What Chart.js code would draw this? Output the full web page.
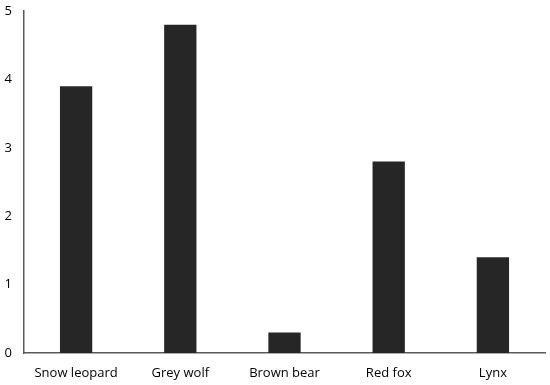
<!DOCTYPE html>
<html>
<head>
<meta charset="utf-8">
<script src="https://cdn.jsdelivr.net/npm/chart.js@4"></script>
<style>
  html, body { margin: 0; padding: 0; background: #fff; }
  #wrap { width: 550px; height: 385px; }
</style>
</head>
<body>
<div id="wrap"><canvas id="myChart"></canvas></div>
<script>
// data
const animals = ["Snow leopard", "Grey wolf", "Brown bear", "Red fox", "Lynx"];
const values = [3.9, 4.8, 0.3, 2.8, 1.4];
const yTicks = [0, 1, 2, 3, 4, 5];

const axisColor = "#595959";
const fontSpec = { family: "'Open Sans', 'Liberation Sans', sans-serif", size: 13 };

const config = {
  type: "bar",
  data: {
    labels: animals,
    datasets: [
      {
        data: values,
        backgroundColor: "#262626",
        borderWidth: 0,
        categoryPercentage: 1,
        barPercentage: 0.31,
      },
    ],
  },
  options: {
    responsive: true,
    maintainAspectRatio: false,
    animation: false,
    layout: {
      padding: { top: 11, right: 5, left: 0, bottom: 0 },
    },
    scales: {
      x: {
        grid: { display: false, drawTicks: false },
        border: { display: true, color: axisColor, width: 1.5 },
        ticks: { color: "#000", font: fontSpec, padding: 12, maxRotation: 0 },
        afterFit: (scale) => { scale.height = 32; },
      },
      y: {
        min: 0,
        max: 5,
        grid: { display: false, drawTicks: false },
        border: { display: true, color: axisColor, width: 1.5 },
        afterBuildTicks: (scale) => { scale.ticks = yTicks.map((v) => ({ value: v })); },
        ticks: { color: "#000", font: fontSpec, padding: 12 },
        afterFit: (scale) => {
          scale.width = 24;
          scale.paddingTop = 0;
        },
      },
    },
    plugins: {
      legend: { display: false },
      tooltip: { enabled: false },
    },
  },
};

var myChart = new Chart(document.getElementById("myChart"), config);
</script>
</body>
</html>
